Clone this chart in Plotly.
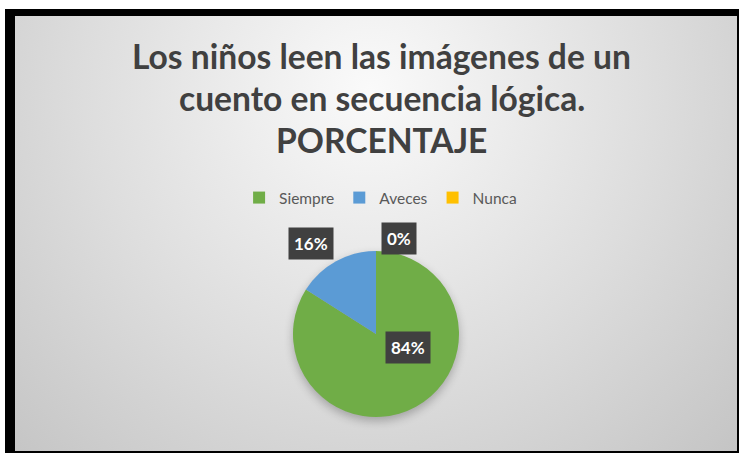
import base64
import plotly.graph_objects as go

# ---- data ----
categories = ["Siempre", "Aveces", "Nunca"]
values = [84, 16, 0]
colors = ["#70AD47", "#5B9BD5", "#FFC000"]
title_lines = ["Los niños leen las imágenes de un", "cuento en secuencia lógica.", "PORCENTAJE"]

W, H = 739, 453
FONT = "Lato, Open Sans, sans-serif"

# pie geometry (pixels)
cx, cy, r = 376, 334, 83
dom_x = [(cx - r) / W, (cx + r) / W]
dom_y = [(H - cy - r) / H, (H - cy + r) / H]

svg = f'''<svg xmlns="http://www.w3.org/2000/svg" width="{W}" height="{H}" viewBox="0 0 {W} {H}">
<defs>
<radialGradient id="g" cx="370" cy="90" r="520" gradientUnits="userSpaceOnUse">
<stop offset="0" stop-color="#fafafa"/>
<stop offset="0.55" stop-color="#dddddd"/>
<stop offset="1" stop-color="#c4c4c4"/>
</radialGradient>
<filter id="b" x="-50%" y="-50%" width="200%" height="200%"><feGaussianBlur stdDeviation="5"/></filter>
</defs>
<rect x="0" y="0" width="{W}" height="{H}" fill="#ffffff"/>
<rect x="5" y="9" width="{W-5}" height="{H-9}" fill="#000000"/>
<rect x="15" y="16" width="{W-17}" height="{H-18}" fill="url(#g)"/>
<circle cx="{cx}" cy="{cy+4}" r="{r}" fill="#000" opacity="0.25" filter="url(#b)"/>
</svg>'''
src = "data:image/svg+xml;base64," + base64.b64encode(svg.encode()).decode()

fig = go.Figure()
fig.add_trace(go.Pie(
    labels=categories, values=values, sort=False, direction="clockwise", rotation=0,
    marker=dict(colors=colors, line=dict(width=0)),
    textinfo="none", hoverinfo="label+percent",
    domain=dict(x=dom_x, y=dom_y), showlegend=True,
))

anns = []
# title lines (center y in pixels)
title_y = [56, 98, 140]
for t, py in zip(title_lines, title_y):
    anns.append(dict(
        x=381.5 / W, y=(H - py) / H, xref="paper", yref="paper",
        xanchor="center", yanchor="middle",
        text=f"<b>{t}</b>", showarrow=False,
        font=dict(family=FONT, size=33.6, color="#404040"),
    ))

# data label positions (pixels) for each slice
label_pos = [(408, 364), (311, 243), (399, 238)]
for v, (px, py) in zip(values, label_pos):
    anns.append(dict(
        x=px / W, y=(H - py) / H, xref="paper", yref="paper",
        text=f"<b>{v}%</b>", showarrow=False,
        font=dict(family=FONT, size=17, color="#ffffff"),
        bgcolor="#404040", borderpad=5,
    ))

fig.update_layout(
    width=W, height=H,
    margin=dict(l=0, r=0, t=0, b=0),
    paper_bgcolor="#ffffff",
    images=[dict(source=src, xref="paper", yref="paper", x=0, y=1, sizex=1, sizey=1,
                 sizing="stretch", xanchor="left", yanchor="top", layer="below")],
    legend=dict(orientation="h", x=0.515, xanchor="center", y=(H - 198) / H, yanchor="middle",
                font=dict(family=FONT, size=15.5, color="#595959"),
                bgcolor="rgba(0,0,0,0)"),
    annotations=anns,
)

fig.write_html("out.html", config={"displayModeBar": False},
               post_script="document.body.style.margin='0';window.dispatchEvent(new Event('resize'));")
